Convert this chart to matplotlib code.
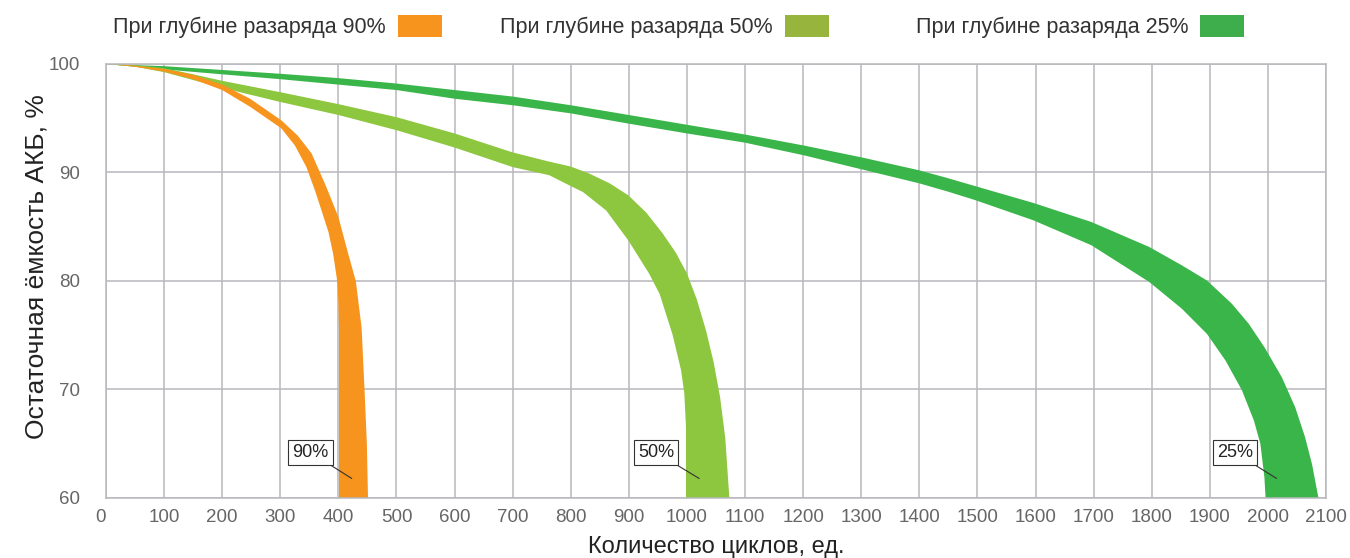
import numpy as np
import matplotlib
matplotlib.use("Agg")
import matplotlib.pyplot as plt
from matplotlib.patches import Rectangle

plt.rcParams['font.family'] = ['Liberation Sans', 'DejaVu Sans']

# band edges: (cycles, residual capacity %)
d90_outer_x = [0, 50, 100, 150, 200, 248, 302, 330, 354, 379, 400, 417, 430, 440, 445, 449, 451]
d90_outer_y = [100, 99.85, 99.55, 99.0, 98.1, 96.8, 94.8, 93.4, 91.75, 88.7, 85.9, 82.5, 80, 75.7, 70, 65, 60]
d90_inner_x = [0, 50, 100, 150, 200, 248, 302, 325, 345, 360, 371, 383, 391, 398, 400, 401, 401]
d90_inner_y = [100, 99.75, 99.3, 98.6, 97.6, 96.06, 94.06, 92.5, 90.5, 88.3, 86.5, 84.5, 82.5, 80, 78, 75.7, 60]

d50_outer_x = [0, 50, 100, 150, 200, 300, 400, 500, 600, 700, 763, 800, 832, 867, 899, 930, 958,
               981, 1000, 1017, 1033, 1046, 1057, 1066, 1073]
d50_outer_y = [100, 99.88, 99.62, 99.05, 98.45, 97.4, 96.3, 95.1, 93.6, 91.85, 91.0, 90.55, 89.9, 89.0,
               87.9, 86.3, 84.4, 82.6, 80.7, 78.3, 75.4, 72.5, 69.3, 65.5, 60]
d50_inner_x = [0, 50, 100, 200, 300, 400, 500, 600, 700, 763, 800, 821, 861, 899, 935, 953, 975,
               990, 995.5, 998.4, 998.4]
d50_inner_y = [100, 99.75, 99.25, 97.8, 96.5, 95.3, 93.9, 92.3, 90.5, 89.75, 88.75, 88.2, 86.5, 83.75,
               80.67, 78.8, 75.1, 71.75, 69.6, 66.5, 60]

d25_outer_x = [0, 100, 200, 300, 400, 500, 600, 700, 800, 900, 1000, 1100, 1200, 1300, 1400, 1451,
               1497, 1596, 1696, 1796, 1852, 1895, 1938, 1967, 1994, 2024, 2047, 2064, 2076, 2087]
d25_outer_y = [100, 99.8, 99.45, 99.1, 98.7, 98.2, 97.6, 97.0, 96.2, 95.3, 94.4, 93.5, 92.5, 91.4, 90.2,
               89.45, 88.73, 87.2, 85.44, 83.13, 81.44, 80.05, 77.9, 76.06, 73.9, 71.13, 68.36, 65.6,
               63.1, 60]
d25_inner_x = [0, 100, 200, 300, 400, 500, 600, 700, 800, 900, 1000, 1100, 1200, 1300, 1400, 1451,
               1497, 1596, 1696, 1796, 1852, 1895, 1927, 1955, 1976, 1987, 1994, 1996]
d25_inner_y = [100, 99.5, 99.05, 98.6, 98.1, 97.6, 96.8, 96.2, 95.45, 94.5, 93.6, 92.75, 91.6, 90.3,
               89.0, 88.21, 87.44, 85.6, 83.3, 79.9, 77.44, 75.13, 72.67, 69.96, 67.13, 65, 61.9, 60]

series = ['При глубине разаряда 90%', 'При глубине разаряда 50%', 'При глубине разаряда 25%']
band_colors = ['#F7941D', '#8DC63F', '#3AB54A']
legend_colors = ['#F7941E', '#97B43C', '#3DAE4B']
tags = ['90%', '50%', '25%']
tag_pos = [(352, 64.2), (947, 64.2), (1943, 64.2)]
tag_tip = [(423, 61.8), (1021, 61.8), (2015, 61.8)]

x_ticks = np.arange(0, 2101, 100)
y_ticks = [60, 70, 80, 90, 100]

fig = plt.figure(figsize=(13.5, 5.58), dpi=100)
ax = fig.add_axes([106 / 1350, 1 - 498 / 558, 1220 / 1350, 434 / 558])

bands = [(d25_outer_x, d25_outer_y, d25_inner_x, d25_inner_y, band_colors[2]),
         (d50_outer_x, d50_outer_y, d50_inner_x, d50_inner_y, band_colors[1]),
         (d90_outer_x, d90_outer_y, d90_inner_x, d90_inner_y, band_colors[0])]
for ox, oy, ix, iy, c in bands:
    px = np.concatenate([ox, ix[::-1]])
    py = np.concatenate([oy, iy[::-1]])
    ax.fill(px, py, color=c, lw=0, zorder=2)

ax.set_xlim(0, 2100)
ax.set_ylim(60, 100)
ax.set_xticks(x_ticks)
ax.set_yticks(y_ticks)
ax.grid(True, color='#b8b8bd', lw=1.1, zorder=0)
ax.set_axisbelow(True)
for s in ax.spines.values():
    s.set_color('#b8b8bd')
    s.set_linewidth(1.1)
ax.tick_params(length=0, labelsize=13.5, labelcolor='#666666')
ax.tick_params(axis='x', pad=8)
ax.tick_params(axis='y', pad=18.5)
ax.get_xticklabels()[0].set_horizontalalignment('right')

ax.set_xlabel('Количество циклов, ед.', fontsize=17, color='#222222')
ax.xaxis.set_label_coords(0.5, -0.088)
ax.set_ylabel('Остаточная ёмкость АКБ, %', fontsize=19, color='#222222')
ax.yaxis.set_label_coords(-0.047, 0.533)

for t, (tx, ty), (hx, hy) in zip(tags, tag_pos, tag_tip):
    ax.annotate(t, xy=(hx, hy), xytext=(tx, ty), ha='center', va='center',
                fontsize=13, color='#222222', zorder=5,
                bbox=dict(boxstyle='square,pad=0.22', fc='white', ec='#333333', lw=0.8),
                arrowprops=dict(arrowstyle='-', color='#333333', lw=0.8,
                                shrinkA=0, shrinkB=0))

# legend along the top: text then colour block
patch_left = [398, 785, 1200]
for name, c, pl in zip(series, legend_colors, patch_left):
    fig.text((pl - 12) / 1350, 1 - 27 / 558, name, ha='right', va='center',
             fontsize=15.5, color='#333333')
    fig.patches.append(Rectangle((pl / 1350, 1 - 37 / 558), 44 / 1350, 22 / 558,
                                 transform=fig.transFigure, fc=c, ec='none'))

fig.savefig('out.png', dpi=100)
